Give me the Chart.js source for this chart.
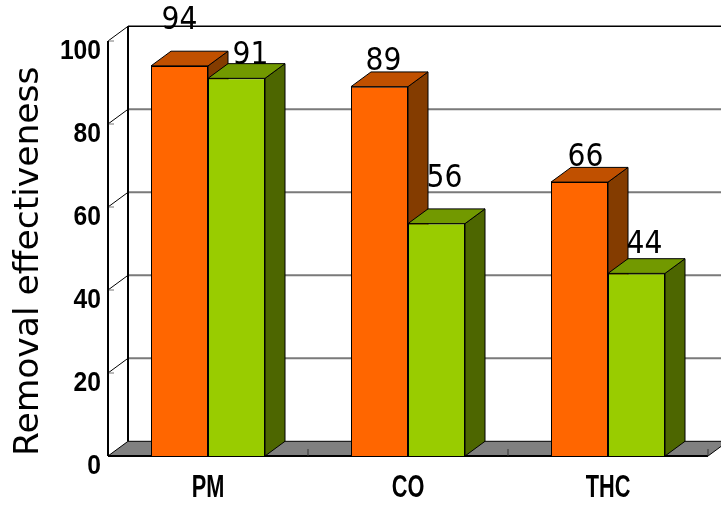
<!DOCTYPE html>
<html>
<head>
<meta charset="utf-8">
<style>
  html, body { margin: 0; padding: 0; background: #fff; overflow: hidden; }
  canvas { display: block; }
</style>
<script src="https://cdn.jsdelivr.net/npm/chart.js@4"></script>
</head>
<body>
<canvas id="myChart" width="721" height="505"></canvas>
<script>
const categories = ['PM', 'CO', 'THC'];
const orangeValues = [94, 89, 66];
const greenValues = [91, 56, 44];
const axisTitle = 'Removal effectiveness';

// how far the 3d depth goes back
const depthX = 20;
const depthY = 14.7;

// value labels sit a bit off the bars in the original
const orangeLabelShift = [[0, -45], [4, -25], [6, -25]];
const greenLabelShift = [[14, -23], [8, -45], [8, -29]];

function face(ctx, pts, color) {
    ctx.beginPath();
    ctx.moveTo(pts[0][0], pts[0][1]);
    for (let i = 1; i < pts.length; i++) ctx.lineTo(pts[i][0], pts[i][1]);
    ctx.closePath();
    ctx.fillStyle = color;
    ctx.fill();
    ctx.strokeStyle = '#000';
    ctx.lineWidth = 1;
    ctx.stroke();
}

function line(ctx, x1, y1, x2, y2, color, width) {
    ctx.beginPath();
    ctx.moveTo(x1, y1);
    ctx.lineTo(x2, y2);
    ctx.strokeStyle = color;
    ctx.lineWidth = width;
    ctx.stroke();
}

// no condensed font is installed, so squeeze the text with a transform
function stretchedText(ctx, text, x, y, sx, sy) {
    ctx.save();
    ctx.translate(x, y);
    ctx.scale(sx, sy);
    ctx.fillText(text, 0, 0);
    ctx.restore();
}

const box3d = {
    id: 'box3d',
    beforeDatasetsDraw(chart) {
        const ctx = chart.ctx;
        const area = chart.chartArea;
        const x = chart.scales.x;
        const y = chart.scales.y;
        ctx.save();

        // floor
        face(ctx, [
            [area.left, area.bottom],
            [area.left + depthX, area.bottom - depthY],
            [area.right + depthX, area.bottom - depthY],
            [area.right, area.bottom]
        ], '#808080');

        // back wall grid and the small side wall lines
        y.ticks.forEach(t => {
            const py = y.getPixelForValue(t.value);
            if (t.value > 0) {
                const top = t.value === y.max;
                line(ctx, area.left + depthX, py - depthY, area.right + depthX, py - depthY, top ? '#000' : '#7a7a7a', top ? 1.5 : 2);
                line(ctx, area.left, py, area.left + depthX, py - depthY, '#000', 1);
                line(ctx, area.left, py, area.left + 6, py, '#777', 1);
            }
        });
        line(ctx, area.left, y.getPixelForValue(y.max), area.left, area.bottom, '#000', 2);
        line(ctx, area.left + depthX, y.getPixelForValue(y.max) - depthY, area.left + depthX, area.bottom - depthY, '#000', 2);
        line(ctx, area.left, area.bottom, area.right, area.bottom, '#000', 2);

        // category ticks on the floor
        for (let i = 0; i < categories.length; i++) {
            const px = x.getPixelForValue(i) + (x.getPixelForValue(1) - x.getPixelForValue(0)) / 2;
            line(ctx, px, area.bottom, px, area.bottom - 7, '#333', 1);
        }

        // side and top of every bar, orange first so green covers it
        chart.data.datasets.forEach((ds, di) => {
            chart.getDatasetMeta(di).data.forEach(bar => {
                const l = bar.x - bar.width / 2;
                const r = bar.x + bar.width / 2;
                face(ctx, [[r, bar.y], [r + depthX, bar.y - depthY], [r + depthX, bar.base - depthY], [r, bar.base]], ds.sideColor);
                face(ctx, [[l, bar.y], [l + depthX, bar.y - depthY], [r + depthX, bar.y - depthY], [r, bar.y]], ds.topColor);
            });
        });
        ctx.restore();
    },
    afterDatasetsDraw(chart) {
        const ctx = chart.ctx;
        const x = chart.scales.x;
        const y = chart.scales.y;
        ctx.save();
        ctx.fillStyle = '#000';
        ctx.textBaseline = 'middle';

        // value labels
        ctx.font = '30px "DejaVu Sans"';
        ctx.textAlign = 'center';
        chart.data.datasets.forEach((ds, di) => {
            chart.getDatasetMeta(di).data.forEach((bar, i) => {
                const shift = ds.labelShift[i];
                stretchedText(ctx, String(ds.data[i]), bar.x + shift[0], bar.y + shift[1], 0.94, 1.08);
            });
        });

        // axis labels, taken from the scales
        ctx.font = 'bold 32px "Liberation Sans"';
        categories.forEach((c, i) => {
            stretchedText(ctx, c, x.getPixelForValue(i), chart.chartArea.bottom + 32, 0.68, 1);
        });
        ctx.font = 'bold 28px "Liberation Sans"';
        ctx.textAlign = 'right';
        y.ticks.forEach(t => {
            stretchedText(ctx, String(t.value), 101, y.getPixelForValue(t.value) + 10, 0.88, 1);
        });
        ctx.restore();
    }
};

const ctx = document.getElementById('myChart').getContext('2d');
const myChart = new Chart(ctx, {
    type: 'bar',
    data: {
        labels: categories,
        datasets: [
            {
                data: orangeValues,
                backgroundColor: '#FF6600',
                borderColor: '#000',
                borderWidth: 1,
                sideColor: '#843C00',
                topColor: '#C05000',
                labelShift: orangeLabelShift
            },
            {
                data: greenValues,
                backgroundColor: '#99CC00',
                borderColor: '#000',
                borderWidth: 1,
                sideColor: '#4D6600',
                topColor: '#729900',
                labelShift: greenLabelShift
            }
        ]
    },
    options: {
        responsive: false,
        animation: false,
        categoryPercentage: 0.57,
        barPercentage: 1,
        layout: { padding: { top: 41, right: 13, left: 0, bottom: 0 } },
        plugins: {
            legend: { display: false },
            tooltip: { enabled: false }
        },
        scales: {
            x: {
                grid: { display: false },
                border: { display: false },
                ticks: { display: false },
                afterFit(scale) { scale.height = 49; }
            },
            y: {
                min: 0,
                max: 100,
                grid: { display: false },
                border: { display: false },
                afterFit(scale) { scale.width = 108; },
                ticks: { display: false, stepSize: 20 },
                title: {
                    display: true,
                    text: axisTitle,
                    color: '#000',
                    align: 'start',
                    font: { family: '"DejaVu Sans"', size: 34.5 },
                    padding: { top: 8, bottom: 0 }
                }
            }
        }
    },
    plugins: [box3d]
});
</script>
</body>
</html>
